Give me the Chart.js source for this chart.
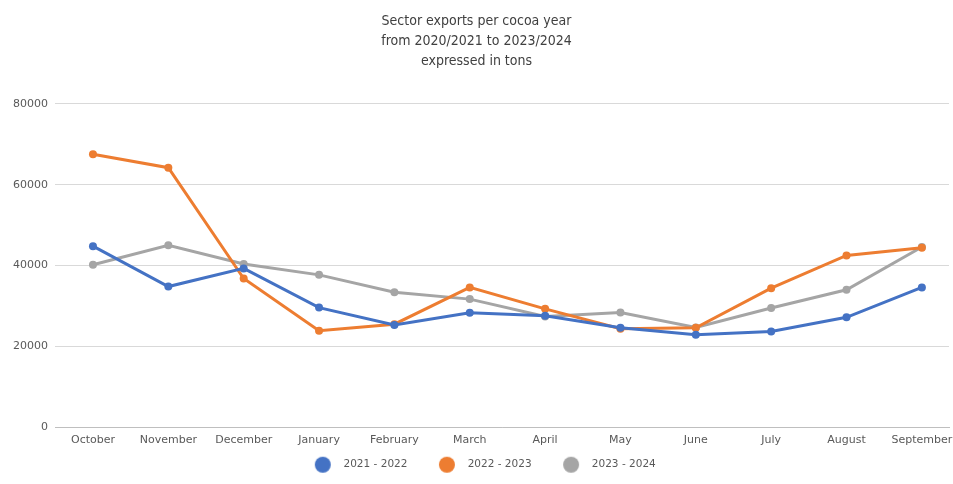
<!DOCTYPE html>
<html>
<head>
<meta charset="utf-8">
<script src="https://cdn.jsdelivr.net/npm/chart.js@4.4.1/dist/chart.umd.min.js"></script>
<style>
  html, body { margin: 0; padding: 0; background: #fff; overflow: hidden; }
  #wrap { width: 953px; height: 484px; }
</style>
</head>
<body>
<div id="wrap"><canvas id="chart" width="953" height="484"></canvas></div>
<script>
const months = ['October', 'November', 'December', 'January', 'February', 'March',
  'April', 'May', 'June', 'July', 'August', 'September'];
const y2122 = [44800, 34800, 39300, 29600, 25300, 28300, 27600, 24600, 22900, 23700, 27200, 34600];
const y2223 = [67500, 64200, 36800, 23900, 25500, 34600, 29300, 24400, 24600, 34400, 42500, 44400];
const y2324 = [40200, 45000, 40400, 37700, 33400, 31700, 27400, 28400, 24700, 29500, 34000, 44600];
const yTicks = [0, 20000, 40000, 60000, 80000];

const titleFont = "'Liberation Sans Narrow', 'DejaVu Sans Condensed', 'Liberation Sans', sans-serif";
const tickFont = "'DejaVu Sans', sans-serif";

function series(label, values, color) {
  return {
    label,
    data: values.map((v, i) => ({ x: i, y: v })),
    borderColor: color,
    backgroundColor: color,
    borderWidth: 3,
    pointRadius: 4,
    pointHoverRadius: 4,
    pointBorderWidth: 0,
    tension: 0
  };
}

// round legend marker
function dot(color) {
  const c = document.createElement('canvas');
  c.width = 18; c.height = 18;
  const g = c.getContext('2d');
  g.fillStyle = color;
  g.beginPath();
  g.arc(9, 9, 8, 0, Math.PI * 2);
  g.fill();
  return c;
}

// legend takes less room in the layout, then is drawn a bit higher and to the right
const legendNudge = {
  id: 'legendNudge',
  beforeLayout(chart) {
    const lg = chart.legend;
    if (!lg || lg._nudged) return;
    const fit = lg.fit, draw = lg.draw;
    lg.fit = function () { fit.call(this); this.height -= 18; };
    lg.draw = function () {
      const { top, left, right } = this;
      this.top = top - 17;
      this.left = left + 5;
      this.right = right + 5;
      draw.call(this);
      this.top = top;
      this.left = left;
      this.right = right;
    };
    lg._nudged = true;
  }
};

new Chart(document.getElementById('chart').getContext('2d'), {
  type: 'line',
  data: {
    datasets: [
      series('2021 - 2022', y2122, '#4472C4'),
      series('2022 - 2023', y2223, '#ED7D31'),
      series('2023 - 2024', y2324, '#A5A5A5')
    ]
  },
  plugins: [legendNudge],
  options: {
    responsive: false,
    animation: false,
    layout: { padding: { left: 0, right: 0, top: 8, bottom: 5 } },
    scales: {
      x: {
        type: 'linear',
        min: -0.504,
        max: 11.36,
        afterFit: s => { s.paddingLeft = 0; s.paddingRight = 0; },
        grid: { display: false, drawTicks: false },
        border: { color: '#bfbfbf', width: 1 },
        ticks: {
          stepSize: 1,
          includeBounds: false,
          autoSkip: false,
          maxRotation: 0,
          padding: 6,
          color: '#595959',
          font: { family: tickFont, size: 11 },
          callback: v => months[v] || ''
        }
      },
      y: {
        min: 0,
        max: 80000,
        afterFit: s => { s.width = 55; },
        afterBuildTicks: s => { s.ticks = yTicks.map(v => ({ value: v })); },
        grid: { color: '#d9d9d9', lineWidth: 1, drawTicks: false },
        border: { display: false },
        ticks: {
          padding: 7,
          color: '#595959',
          font: { family: tickFont, size: 11 },
          callback: v => String(v)
        }
      }
    },
    plugins: {
      title: {
        display: true,
        text: ['Sector exports per cocoa year', 'from 2020/2021 to 2023/2024', 'expressed in tons'],
        color: '#404040',
        font: { family: titleFont, size: 14, weight: 'normal', lineHeight: 1.4 },
        padding: { top: 4, bottom: 33 }
      },
      legend: {
        position: 'bottom',
        labels: {
          usePointStyle: true,
          pointStyleWidth: 31,
          padding: 24,
          color: '#595959',
          font: { family: tickFont, size: 10.5 },
          generateLabels: chart => Chart.defaults.plugins.legend.labels.generateLabels(chart)
            .map(item => Object.assign(item, { pointStyle: dot(item.strokeStyle) }))
        }
      },
      tooltip: { enabled: false }
    }
  }
});
</script>
</body>
</html>
